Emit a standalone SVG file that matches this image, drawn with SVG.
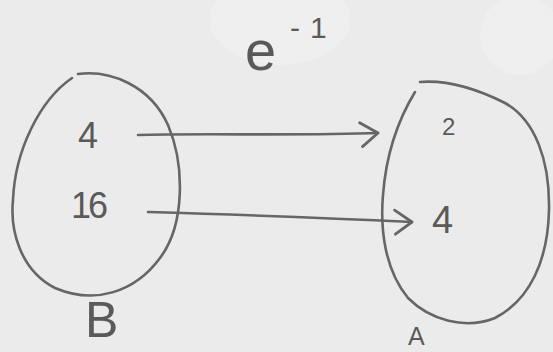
<svg xmlns="http://www.w3.org/2000/svg" width="553" height="352" viewBox="0 0 553 352">
  <defs>
    <style>
      .ink { fill: none; stroke: #666666; stroke-width: 2.6; stroke-linecap: round; stroke-linejoin: round; }
      .lbl { font-family: "Liberation Sans", Arial, sans-serif; fill: #5a5a5a; }
    </style>
    <marker id="head" viewBox="-22 -16 26 32" refX="0" refY="0" markerWidth="26" markerHeight="32" markerUnits="userSpaceOnUse" orient="auto" overflow="visible">
      <path d="M-18,-11 L0,0 L-16,13" fill="none" stroke="#666666" stroke-width="2.8" stroke-linecap="round" stroke-linejoin="round"/>
    </marker>
  </defs>
  <rect width="553" height="352" fill="#ebebeb"/>
  <ellipse cx="280" cy="20" rx="70" ry="45" fill="#f1f1f1" opacity="0.7"/>
  <ellipse cx="520" cy="35" rx="40" ry="40" fill="#f1f1f1" opacity="0.6"/>

  <g id="label-e">
    <text class="lbl" x="245" y="70" font-size="56">e<tspan font-size="30" x="290 310" y="38 38">-1</tspan></text>
  </g>

  <g id="node-B">
    <path class="ink" d="M78,74 C110,70 150,85 168,125 C185,165 185,225 160,258 C135,292 95,305 55,288 C20,270 10,230 13,200 C15,150 40,100 72,78"/>
    <text class="lbl" x="78" y="148" font-size="36">4</text>
    <text class="lbl" x="71" y="218" font-size="36" letter-spacing="-3">16</text>
    <text class="lbl" x="85" y="337" font-size="50">B</text>
  </g>

  <g id="node-A">
    <path class="ink" d="M420,82 C445,80 475,88 505,103 C535,120 550,160 549,210 C548,260 530,300 495,318 C465,330 430,320 408,298 C385,270 380,230 383,195 C386,155 398,120 415,92"/>
    <text class="lbl" x="442" y="135" font-size="24">2</text>
    <text class="lbl" x="432" y="233" font-size="38">4</text>
    <text class="lbl" x="408" y="345" font-size="25">A</text>
  </g>

  <g id="connectors">
    <path class="ink" d="M138,135 C200,133 300,136 378,133" marker-end="url(#head)"/>
    <path class="ink" d="M148,212 C250,215 330,218 412,222" marker-end="url(#head)"/>
  </g>
</svg>
